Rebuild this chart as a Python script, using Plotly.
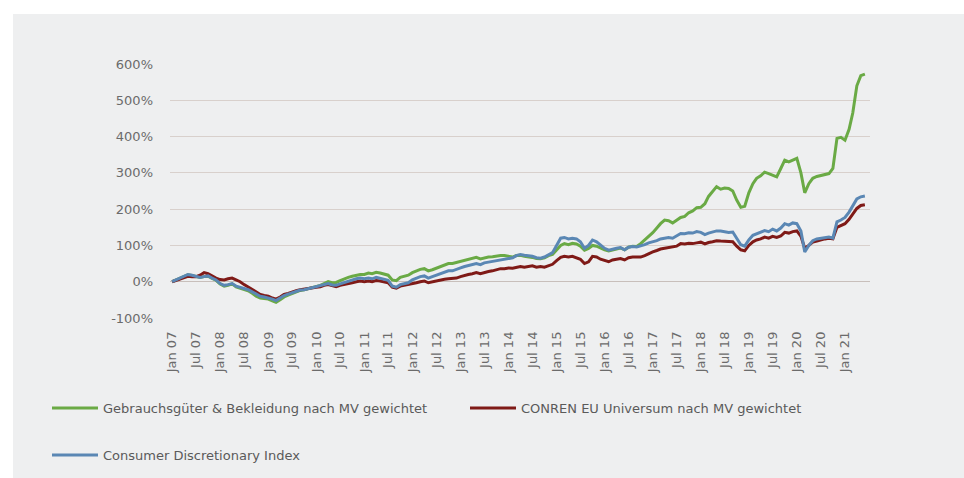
import pandas as pd
import plotly.graph_objects as go

# Monthly performance since January 2007 (in %)
months = pd.date_range("2007-01-01", periods=174, freq="MS")

gebrauchsgueter = [
    0, 5, 8, 14, 19, 17, 14, 12, 14, 15, 9, 4,
    -6, -12, -10, -6, -14, -17, -20, -25, -32, -40, -45, -47,
    -48, -53, -57, -50, -42, -37, -32, -28, -24, -22, -19, -16,
    -13, -10, -5, 0, -3, -2, 3, 8, 12, 15, 18, 20,
    20, 24, 22, 26, 24, 22, 18, 5, 3, 12, 15, 18,
    25, 30, 34, 36, 30, 33, 37, 40, 45, 50, 50, 53,
    57, 60, 62, 64, 67, 63, 66, 68, 69, 71, 72, 72,
    70, 68, 72, 73, 70, 69, 67, 64, 63, 66, 72, 75,
    88, 100, 105, 102, 106, 104, 98, 87, 92, 100, 98, 92,
    88, 85, 88, 91, 93, 88, 95, 98, 97, 105, 115, 125,
    135, 148, 160, 170, 168, 162, 170, 177, 180, 190, 195, 204,
    205, 215, 235, 250, 262, 255, 258, 257, 250, 225, 205, 208,
    245, 270, 285, 292, 302, 298, 294, 289, 312, 335, 330, 336,
    340, 300, 245, 270, 285, 290, 292, 296, 298, 312, 395, 398,
    390, 420, 465, 540, 568, 572,
]

conren_eu = [
    0, 4, 6, 12, 15, 14, 14, 18, 25, 22, 15, 10,
    6, 5, 8, 10, 5, 0, -8, -15, -20, -28, -35, -38,
    -40, -45, -48, -42, -35, -32, -28, -25, -22, -20, -18, -16,
    -15, -14, -10, -8, -12, -14, -10, -8, -5, -3, 0, 2,
    0, 2, 0, 3, 2, 0, -3, -15, -18, -12, -10, -8,
    -5, -3, 0, 2, -3, 0, 3, 5, 7, 8, 8, 10,
    14, 18, 20, 22, 25, 22, 26, 28, 30, 33, 36, 36,
    38, 37, 40, 42, 40, 42, 44, 40, 42, 40, 45, 48,
    58, 67, 70, 68, 70, 67, 62, 50, 55, 70, 68, 62,
    58, 55, 60, 62, 64, 60, 66, 68, 67, 68, 72, 78,
    82, 86, 90, 92, 94, 96, 98, 105, 104, 106, 105, 107,
    109, 104, 108, 110, 113, 112, 111, 109, 110, 98, 88, 85,
    100, 110, 115, 118, 123, 120, 125, 122, 126, 136, 134, 138,
    140, 125, 92, 100, 109, 112, 116, 118, 120, 118, 150, 155,
    160, 172, 185, 202, 210, 212,
]

consumer_discretionary = [
    0, 5, 8, 15, 20, 18, 15, 12, 14, 16, 10, 5,
    -5, -10, -8, -5, -12, -15, -18, -22, -28, -35, -40, -42,
    -44, -48, -52, -45, -38, -34, -30, -26, -23, -22, -19, -17,
    -14, -12, -8, -5, -9, -10, -6, -2, 2, 5, 8, 10,
    8, 10, 8, 12, 10, 8, 4, -12, -15, -8, -5, -3,
    5, 10, 14, 16, 10, 14, 18, 22, 26, 30, 30, 33,
    38, 42, 44, 46, 50, 47, 52, 54, 56, 60, 62, 63,
    65, 66, 72, 75, 73, 72, 70, 66, 65, 68, 75, 80,
    100, 120, 122, 118, 120, 118, 110, 92, 100, 115, 110, 100,
    92, 87, 90, 92, 94, 88, 95, 97, 96, 98, 102, 107,
    110, 113, 118, 120, 122, 120, 126, 133, 132, 135, 134, 138,
    136, 130, 134, 138, 140, 140, 138, 136, 137, 118, 102, 98,
    115, 128, 132, 136, 141, 138, 145, 140, 148, 160, 156, 162,
    160, 140, 82, 100, 113, 118, 120, 122, 123, 120, 165, 170,
    177, 192, 208, 228, 234, 236,
]

tick_dates = pd.date_range("2007-01-01", "2021-01-01", freq="6MS")
tick_labels = [d.strftime("%b %y") for d in tick_dates]
y_ticks = [-100, 0, 100, 200, 300, 400, 500, 600]
y_labels = ["-100%", "0%", "100%", "200%", "300%", "400%", "500%", "600%"]

FONT = "DejaVu Sans"
TEXT = "#6b6b6b"
W, H = 964, 478

# plot area in pixels: left 170, width 700, top 64, height 254
PL, PW, PT, PH = 170, 700, 64, 254
PB = PT + PH


def px_x(x):
    return (x - PL) / PW


def px_y(y):
    return (PB - y) / PH


fig = go.Figure()
fig.add_trace(go.Scatter(
    x=months, y=gebrauchsgueter, mode="lines",
    name="Gebrauchsgüter & Bekleidung nach MV gewichtet",
    line=dict(color="#6aaa45", width=3), legend="legend",
))
fig.add_trace(go.Scatter(
    x=months, y=conren_eu, mode="lines",
    name="CONREN EU Universum nach MV gewichtet",
    line=dict(color="#7f1a17", width=3), legend="legend2",
))
fig.add_trace(go.Scatter(
    x=months, y=consumer_discretionary, mode="lines",
    name="Consumer Discretionary Index",
    line=dict(color="#5a87b4", width=3), legend="legend3",
))

# light grey panel behind the whole chart
fig.add_shape(
    type="rect", xref="paper", yref="paper",
    x0=px_x(13), x1=px_x(W + 2), y0=px_y(H + 2), y1=px_y(14),
    fillcolor="#eeeff0", line=dict(width=0), layer="below",
)


def legend_at(x_px, y_px):
    # one legend box per series, positioned in window pixels
    return dict(
        orientation="h", xref="container", yref="container",
        x=x_px / W, y=1 - y_px / H,
        xanchor="left", yanchor="middle", itemwidth=46,
        font=dict(family=FONT, size=13, color="#5a5a5a"),
        bgcolor="rgba(0,0,0,0)",
    )


fig.update_layout(
    width=W, height=H,
    margin=dict(l=PL, r=W - PL - PW, t=PT, b=H - PB, autoexpand=False),
    paper_bgcolor="white",
    plot_bgcolor="rgba(0,0,0,0)",
    font=dict(family=FONT, size=13, color=TEXT),
    showlegend=True,
    legend=legend_at(47, 408),
    legend2=legend_at(465, 408),
    legend3=legend_at(47, 455),
    xaxis=dict(
        type="date",
        range=["2006-12-16", "2021-07-10"],
        tickvals=tick_dates, ticktext=tick_labels,
        tickangle=-90, tickfont=dict(size=13, color=TEXT),
        showgrid=False, zeroline=False, showline=False,
        ticks="", ticklabelstandoff=10, automargin=False,
    ),
    yaxis=dict(
        range=[-100, 600],
        tickvals=y_ticks, ticktext=y_labels,
        tickfont=dict(size=13, color=TEXT),
        showgrid=True, gridcolor="#d8d0cc", gridwidth=1,
        zeroline=True, zerolinecolor="#c8bfbb", zerolinewidth=1,
        showline=False, ticks="", ticklabelstandoff=16, automargin=False,
    ),
)

fig.write_html("out.html")
